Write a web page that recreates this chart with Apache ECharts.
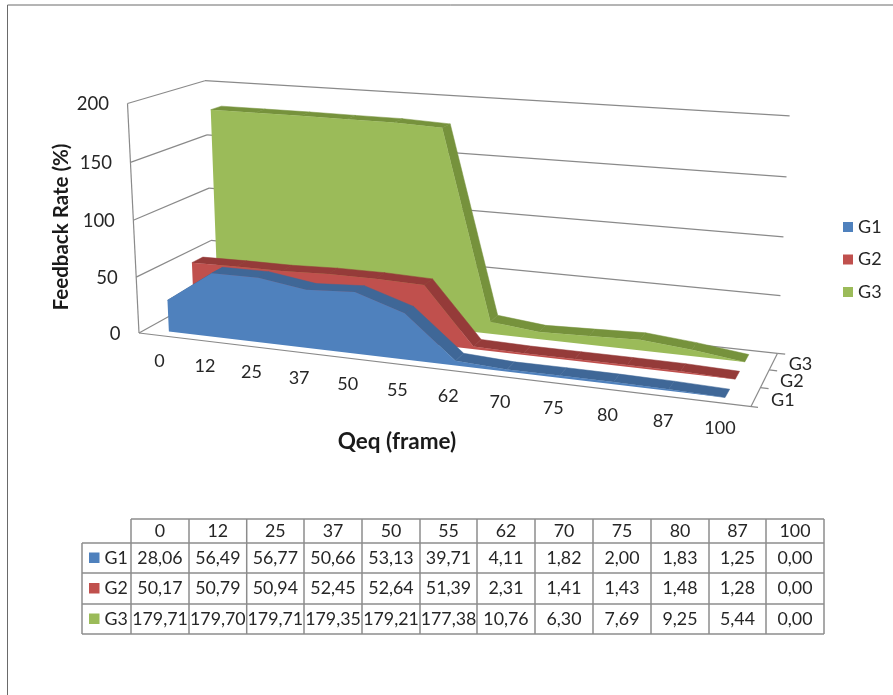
<!DOCTYPE html>
<html><head><meta charset="utf-8">
<style>html,body{margin:0;padding:0;background:#fff}#c{width:893px;height:695px}</style>
<script src="https://cdn.jsdelivr.net/npm/echarts@6/dist/echarts.min.js"></script>
</head><body><div id="c"></div>
<script>
// ---- data ----
const categories = ['0','12','25','37','50','55','62','70','75','80','87','100'];
const g1 = [28.06,56.49,56.77,50.66,53.13,39.71,4.11,1.82,2.00,1.83,1.25,0.00];
const g2 = [50.17,50.79,50.94,52.45,52.64,51.39,2.31,1.41,1.43,1.48,1.28,0.00];
const g3 = [179.71,179.70,179.71,179.35,179.21,177.38,10.76,6.30,7.69,9.25,5.44,0.00];
const seriesNames = ['G1','G2','G3'];
const yTicks = [0,50,100,150,200];

// ---- styling / camera ----
const FONT = 'Lato, "Open Sans", sans-serif';
const TXT = '#262626', LINE = '#8a8a8a';
const front = ['#4F81BD','#C0504D','#9BBB59'];
const dark  = ['#3F6797','#953B39','#76923C'];
const seriesValues = [g1,g2,g3];
const depthFront = [0.095,0.43,0.765], depthSize = 0.15;
const cam = {O:[139,333],U:[751,406.5],V:[127.5,103.5],D:[213,292],wu:0.875,wv:0.965,wd:1.09};
function project(u,v,d){
  const w = 1+u*(cam.wu-1)+v*(cam.wv-1)+d*(cam.wd-1);
  const f = k => (cam.O[k]+u*(cam.wu*cam.U[k]-cam.O[k])+v*(cam.wv*cam.V[k]-cam.O[k])+d*(cam.wd*cam.D[k]-cam.O[k]))/w;
  return [f(0),f(1)];
}
// data -> unit plane through the (hidden) cartesian axes
function unit(api,params,cat,val){
  const p = api.coord([cat,val]), r = params.coordSys;
  return [(p[0]-r.x)/r.width,(r.y+r.height-p[1])/r.height];
}
function areaRender(si){
  return function(params,api){
    const vals = seriesValues[si], i = params.dataIndex, children = [];
    const d0 = depthFront[si], d1 = d0+depthSize;
    if(i < vals.length-1){
      const a = unit(api,params,api.value(0),api.value(1));
      const b = unit(api,params,i+1,vals[i+1]);
      children.push({type:'polygon',z2:1,shape:{points:[project(a[0],a[1],d0),project(b[0],b[1],d0),project(b[0],b[1],d1),project(a[0],a[1],d1)]},
        style:{fill:dark[si],stroke:dark[si],lineWidth:0.5}});
    }
    if(i === 0){
      const pts = [];
      vals.forEach((v,j)=>{const q=unit(api,params,j,v);pts.push(project(q[0],q[1],d0));});
      const e = unit(api,params,vals.length-1,0), s = unit(api,params,0,0);
      pts.push(project(e[0],e[1],d0)); pts.push(project(s[0],s[1],d0));
      children.push({type:'polygon',z2:5,shape:{points:pts},style:{fill:front[si]}});
    }
    return {type:'group',children};
  };
}
function line(a,b,w){return {type:'line',shape:{x1:a[0],y1:a[1],x2:b[0],y2:b[1]},style:{stroke:LINE,lineWidth:w||1.2}};}
function wallRender(params,api){
  const q = unit(api,params,0,api.value(1)), v = q[1];
  const a = project(0,v,0), b = project(0,v,1), c = project(1,v,1);
  return {type:'group',children:[
    line(a,b),line(b,c),
    {type:'text',style:{text:String(api.value(1)),x:a[0]-18.5,y:a[1]+1,align:'right',verticalAlign:'middle',font:'18.5px '+FONT,fill:TXT}}
  ]};
}
function floorRender(params,api){
  const children = [
    line(project(0,0,0),project(1.01,0,0)),
    line(project(1,0,0),project(1,0,1)),
    line(project(0,0,0),project(0,1,0)),
    line(project(1,0,1),project(1.012,0,1))
  ];
  [1/3,2/3].forEach(d=>children.push(line(project(1,0,d),project(1.012,0,d))));
  return {type:'group',children};
}
function catRender(params,api){
  const q = unit(api,params,api.value(0),0), p = project(q[0],0,0);
  return {type:'text',style:{text:categories[params.dataIndex],x:p[0]-2,y:p[1]+25.5,align:'center',verticalAlign:'middle',font:'18px '+FONT,fill:TXT}};
}
function depthRender(params,api){
  const i = params.dataIndex, p = project(1,0,(i+0.5)/3);
  return {type:'text',style:{text:seriesNames[i],x:p[0]+27,y:p[1]+3,align:'center',verticalAlign:'middle',font:'18px '+FONT,fill:TXT}};
}

// ---- table ----
const colEdges = [82,131,189,246.7,304,362,420,477,535,593,651,709,766,824];
const rowEdges = [519,543,573,604,634];
function tableGraphics(){
  const g = [], ls = {stroke:'#8c8c8c',lineWidth:1.5};
  rowEdges.forEach((y,r)=>g.push({type:'line',shape:{x1:r===0?colEdges[1]:colEdges[0],y1:y,x2:colEdges[13],y2:y},style:ls}));
  colEdges.forEach((x,c)=>g.push({type:'line',shape:{x1:x,y1:c===0?rowEdges[1]:rowEdges[0],x2:x,y2:rowEdges[4]},style:ls}));
  const txt = (s,x,y,align)=>({type:'text',x,y,style:{text:s,align:align||'center',verticalAlign:'middle',font:'17.8px '+FONT,fill:TXT}});
  categories.forEach((c,i)=>g.push(txt(c,(colEdges[i+1]+colEdges[i+2])/2,(rowEdges[0]+rowEdges[1])/2+0.5)));
  seriesNames.forEach((n,r)=>{
    const ym = (rowEdges[r+1]+rowEdges[r+2])/2;
    g.push({type:'rect',shape:{x:89,y:ym-5.5,width:10.5,height:10.5},style:{fill:front[r]}});
    g.push(txt(n,104.5,ym,'left'));
    seriesValues[r].forEach((v,i)=>g.push(txt(v.toFixed(2).replace('.',','),(colEdges[i+1]+colEdges[i+2])/2,ym)));
  });
  return g;
}
const frame = [
  {type:'line',shape:{x1:7.5,y1:5,x2:893,y2:5},style:{stroke:'#6a6a6a',lineWidth:1}},
  {type:'line',shape:{x1:7.5,y1:5,x2:7.5,y2:695},style:{stroke:'#6a6a6a',lineWidth:1}},
  {type:'text',x:61,y:227,rotation:Math.PI/2,style:{text:'Feedback Rate (%)',align:'center',verticalAlign:'middle',font:'bold 20.5px '+FONT,fill:'#1a1a1a'}},
  {type:'text',x:397,y:442,style:{text:'Qeq (frame)',align:'center',verticalAlign:'middle',font:'bold 22.5px '+FONT,fill:'#1a1a1a'}}
];

const catRows = v => v.map((x,i)=>[i,x]);
const chart = echarts.init(document.getElementById('c'));
chart.setOption({
  animation:false,
  backgroundColor:'#fff',
  grid:{left:100,top:100,width:600,height:200,show:false},
  xAxis:{type:'category',data:categories,show:false},
  yAxis:{type:'value',min:0,max:200,show:false},
  legend:{orient:'vertical',left:843,top:218,padding:0,itemWidth:10,itemHeight:10,itemGap:14.5,icon:'rect',
    data:seriesNames,textStyle:{fontFamily:'Lato',fontSize:18,color:TXT},selectedMode:false},
  graphic:{elements:frame.concat(tableGraphics())},
  series:[
    {type:'custom',name:'walls',z:1,silent:true,data:yTicks.map(v=>[0,v]),renderItem:wallRender},
    {type:'custom',name:'floor',z:1,silent:true,data:[[0,0]],renderItem:floorRender},
    {type:'custom',name:'cats',z:1,silent:true,data:categories.map((c,i)=>[i,0]),renderItem:catRender},
    {type:'custom',name:'depths',z:1,silent:true,data:seriesNames.map((c,i)=>[i,0]),renderItem:depthRender},
    {type:'custom',name:'G3',z:3,data:catRows(g3),itemStyle:{color:front[2]},renderItem:areaRender(2)},
    {type:'custom',name:'G2',z:4,data:catRows(g2),itemStyle:{color:front[1]},renderItem:areaRender(1)},
    {type:'custom',name:'G1',z:5,data:catRows(g1),itemStyle:{color:front[0]},renderItem:areaRender(0)}
  ]
});
</script></body></html>
